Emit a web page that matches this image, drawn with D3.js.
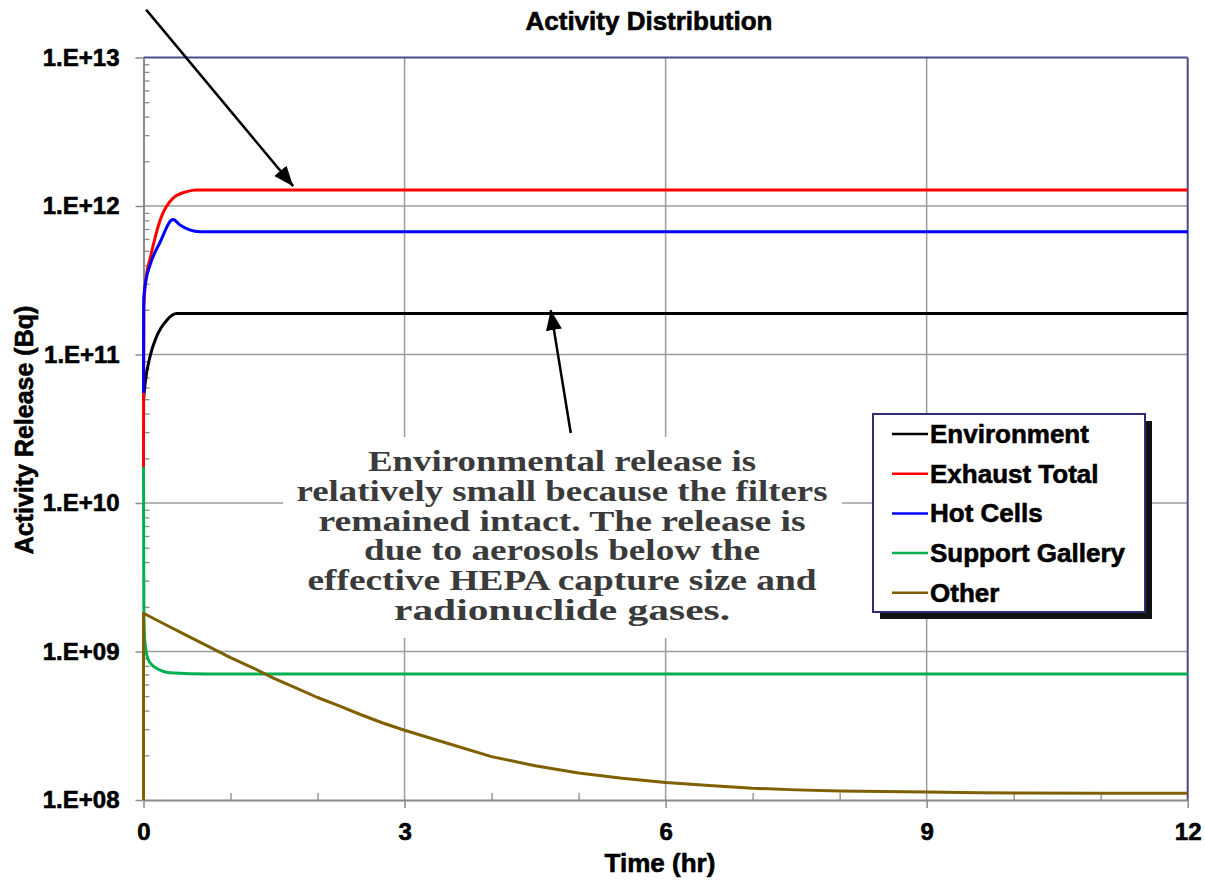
<!DOCTYPE html>
<html><head><meta charset="utf-8">
<script src="https://cdn.jsdelivr.net/npm/d3@7"></script>
<style>body{margin:0;background:#fff} svg{display:block}</style>
</head><body><svg id="c" width="1205" height="881"></svg>
<script>
// ---------- data ----------
const seriesNames = ["Environment", "Exhaust Total", "Hot Cells", "Support Gallery", "Other"];
const environment = [[0,4.9e10],[0.017,6.3e10],[0.075,9.7e10],[0.15,1.32e11],[0.27,1.71e11],[0.38,1.89e11],[12,1.89e11]];
const exhaustTotal = [[0,1.75e10],[0.003,2.0e11],[0.03,3.3e11],[0.075,4.4e11],[0.19,8.0e11],[0.34,1.13e12],[0.5,1.25e12],[0.61,1.28e12],[12,1.28e12]];
const hotCells = [[0,5.5e10],[0.003,2.4e11],[0.03,3.2e11],[0.075,4.0e11],[0.19,5.7e11],[0.34,8.1e11],[0.42,7.45e11],[0.53,6.9e11],[0.65,6.7e11],[12,6.7e11]];
const supportGallery = [[0,1.75e10],[0.004,2.0e9],[0.012,1.26e9],[0.03,1.0e9],[0.055,8.8e8],[0.12,7.9e8],[0.19,7.5e8],[0.30,7.2e8],[0.75,7.05e8],[12,7.05e8]];
const other = [[0,1.0e8],[0,1.81e9],[0.25,1.52e9],[0.5,1.28e9],[0.75,1.08e9],[1.0,9.1e8],[1.25,7.8e8],[1.5,6.6e8],[1.75,5.7e8],[2.0,4.9e8],[2.25,4.3e8],[2.5,3.75e8],[2.75,3.3e8],[3.0,2.95e8],[3.5,2.4e8],[4.0,1.96e8],[4.5,1.7e8],[5.0,1.52e8],[5.5,1.4e8],[6.0,1.31e8],[6.5,1.25e8],[7.0,1.2e8],[7.5,1.17e8],[8.0,1.15e8],[8.5,1.14e8],[9.0,1.13e8],[9.6,1.12e8],[10,1.115e8],[11,1.11e8],[12,1.11e8]];
const seriesData = [environment, exhaustTotal, hotCells, supportGallery, other];

const xTicks = [0, 3, 6, 9, 12];
const xMinorTicks = [1, 2, 4, 5, 7, 8, 10, 11];
const yTicks = [1e8, 1e9, 1e10, 1e11, 1e12, 1e13];
const yTickLabels = ["1.E+08", "1.E+09", "1.E+10", "1.E+11", "1.E+12", "1.E+13"];
const titleText = "Activity Distribution";
const xTitle = "Time (hr)";
const yTitle = "Activity Release (Bq)";
const noteLines = ["Environmental release is", "relatively small because the filters", "remained intact. The release is", "due to aerosols below the", "effective HEPA capture size and", "radionuclide gases."];
const arrowFrom = [[0.03, 2.1e13], [4.91, 2.96e10]];
const arrowTo = [[1.72, 1.36e12], [4.68, 1.99e11]];

// ---------- styles ----------
const colors = ["#000000", "#ff0000", "#0000ff", "#00b050", "#7f6000"];
const curves = [d3.curveMonotoneX, d3.curveMonotoneX, d3.curveMonotoneX, d3.curveMonotoneX, d3.curveLinear];
const noteWidths = [388, 531, 487, 396, 509, 336];
const sans = "'Liberation Sans', Arial, sans-serif";
const serif = "'Liberation Serif', 'Times New Roman', serif";
const gridColor = "#9c9c9c", axisColor = "#8a8a8a", frameColor = "#4a4a8c";

const svg = d3.select("#c");
svg.append("rect").attr("width", 1205).attr("height", 881).attr("fill", "#fff");

const x = d3.scaleLinear().domain([0, 12]).range([143.5, 1187.7]);
const y = d3.scaleLog().domain([1e8, 1e13]).range([800, 57.5]);
const [X0, X1] = x.range(); const [Y1, Y0] = y.range();

function boldText(sel, size) {
  sel.attr("font-family", sans).attr("font-weight", "bold").attr("font-size", size)
    .attr("fill", "#000").attr("stroke", "#000").attr("stroke-width", 0.6);
}

// grid
svg.append("g").selectAll("line").data(yTicks.slice(1, -1)).join("line")
  .attr("x1", X0).attr("x2", X1).attr("y1", d => y(d)).attr("y2", d => y(d))
  .attr("stroke", gridColor).attr("stroke-width", 1.5);
svg.append("g").selectAll("line").data(xTicks.slice(1, -1)).join("line")
  .attr("y1", Y0).attr("y2", Y1).attr("x1", d => x(d)).attr("x2", d => x(d))
  .attr("stroke", gridColor).attr("stroke-width", 1.5);

// frame top/right
svg.append("line").attr("x1", X0).attr("x2", X1).attr("y1", Y0).attr("y2", Y0).attr("stroke", frameColor).attr("stroke-width", 2);
svg.append("line").attr("x1", X1).attr("x2", X1).attr("y1", Y0).attr("y2", Y1).attr("stroke", frameColor).attr("stroke-width", 2);

// annotation background
svg.append("rect").attr("x", 283).attr("y", 437).attr("width", 559).attr("height", 201).attr("fill", "#fff");

// axes
function styleAxis(g) {
  g.select(".domain").attr("stroke", axisColor).attr("stroke-width", 2);
  g.selectAll(".tick line").attr("stroke", axisColor).attr("stroke-width", 1.5);
  boldText(g.selectAll("text"), 24);
}
const yAxis = svg.append("g").attr("transform", `translate(${X0},0)`)
  .call(d3.axisLeft(y).tickValues(yTicks).tickFormat((d, i) => yTickLabels[i]).tickSize(8).tickPadding(16).tickSizeOuter(0));
styleAxis(yAxis);
const yMinor = [];
for (let e = 8; e < 13; e++) for (let m = 2; m <= 9; m++) yMinor.push(m * Math.pow(10, e));
const yMinorAxis = svg.append("g").attr("transform", `translate(${X0},0)`)
  .call(d3.axisLeft(y).tickValues(yMinor).tickFormat("").tickSize(-6).tickSizeOuter(0));
yMinorAxis.select(".domain").remove();
yMinorAxis.selectAll(".tick line").attr("stroke", axisColor).attr("stroke-width", 1.3);

const xAxis = svg.append("g").attr("transform", `translate(0,${Y1})`)
  .call(d3.axisBottom(x).tickValues(xTicks).tickFormat(d3.format("d")).tickSize(8).tickPadding(15).tickSizeOuter(0));
styleAxis(xAxis);
const xMinorAxis = svg.append("g").attr("transform", `translate(0,${Y1})`)
  .call(d3.axisBottom(x).tickValues(xMinorTicks).tickFormat("").tickSize(-7).tickSizeOuter(0));
xMinorAxis.select(".domain").remove();
xMinorAxis.selectAll(".tick line").attr("stroke", axisColor).attr("stroke-width", 1.3);

// series
svg.append("g").selectAll("path").data(seriesData).join("path")
  .attr("d", (d, i) => d3.line().x(p => x(p[0])).y(p => y(p[1])).curve(curves[i])(d))
  .attr("fill", "none")
  .attr("stroke", (d, i) => colors[i]).attr("stroke-width", 3).attr("stroke-linejoin", "round");

// titles
boldText(svg.append("text").attr("x", 649).attr("y", 30).attr("text-anchor", "middle").text(titleText), 26);
boldText(svg.append("text").attr("x", 660).attr("y", 872).attr("text-anchor", "middle").text(xTitle), 26);
boldText(svg.append("text").attr("transform", "translate(33,430) rotate(-90)").attr("text-anchor", "middle").text(yTitle), 25);

// legend
const lg = svg.append("g").attr("transform", "translate(873,414)");
lg.append("rect").attr("x", 7).attr("y", 7).attr("width", 272).attr("height", 198).attr("fill", "#111");
lg.append("rect").attr("width", 272).attr("height", 198).attr("fill", "#fff").attr("stroke", "#2e2e70").attr("stroke-width", 2);
const items = lg.selectAll("g.item").data(seriesNames).join("g").attr("class", "item")
  .attr("transform", (d, i) => `translate(0,${20 + i * 39.7})`);
items.append("line").attr("x1", 19).attr("x2", 55).attr("stroke", (d, i) => colors[i]).attr("stroke-width", 2.5);
boldText(items.append("text").attr("x", 57).attr("y", 9).text(d => d), 26);

// annotation text
svg.append("g").selectAll("text").data(noteLines).join("text")
  .attr("x", 562).attr("y", (d, i) => 471 + i * 29.8).attr("text-anchor", "middle")
  .attr("font-family", serif).attr("font-weight", "bold").attr("font-size", 30).attr("fill", "#3a3a3a")
  .attr("textLength", (d, i) => noteWidths[i]).attr("lengthAdjust", "spacingAndGlyphs")
  .text(d => d);

// arrows
const defs = svg.append("defs");
defs.append("marker").attr("id", "ah").attr("markerUnits", "userSpaceOnUse")
  .attr("markerWidth", 24).attr("markerHeight", 20).attr("refX", 20).attr("refY", 8)
  .attr("orient", "auto").attr("viewBox", "0 0 24 16")
  .append("path").attr("d", "M0,0 L20,8 L0,16 Z").attr("fill", "#000");
svg.append("g").selectAll("line").data(arrowFrom).join("line")
  .attr("x1", d => x(d[0])).attr("y1", d => y(d[1]))
  .attr("x2", (d, i) => x(arrowTo[i][0])).attr("y2", (d, i) => y(arrowTo[i][1]))
  .attr("stroke", "#000").attr("stroke-width", 2.5).attr("marker-end", "url(#ah)");
</script></body></html>
